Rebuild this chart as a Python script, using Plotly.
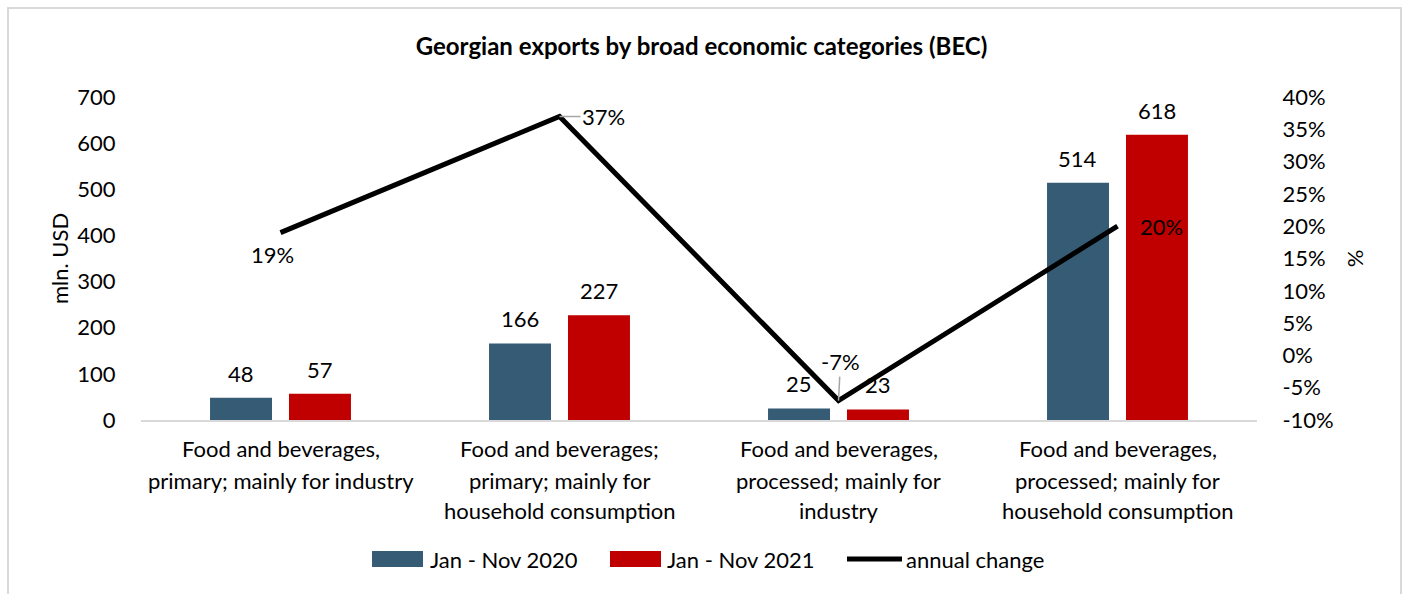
import plotly.graph_objects as go

# Export values, mln. USD
categories = [
    ["Food and beverages,", "primary; mainly for industry"],
    ["Food and beverages;", "primary; mainly for", "household consumption"],
    ["Food and beverages,", "processed; mainly for", "industry"],
    ["Food and beverages,", "processed; mainly for", "household consumption"],
]
exports_2020 = [48, 166, 25, 514]
exports_2021 = [57, 227, 23, 618]
annual_change = [0.19, 0.37, -0.07, 0.20]
change_labels = ["19%", "37%", "-7%", "20%"]

# right-axis ticks
pct_ticks = [-0.10, -0.05, 0.0, 0.05, 0.10, 0.15, 0.20, 0.25, 0.30, 0.35, 0.40]
pct_tick_labels = ["-10%", "-5%", "0%", "5%", "10%", "15%", "20%", "25%", "30%", "35%", "40%"]

series_names = ["Jan - Nov 2020", "Jan - Nov 2021", "annual change"]
BLUE = "#355B75"
RED = "#C00000"
FONT = "Lato"
TXT = 22

W, H = 1403, 594
L, R, T, B = 141, 146, 97, 174
pw, ph = W - L - R, H - T - B


def px_x(p):
    return (p - L) / pw


def px_y(p):
    return (H - B - p) / ph


x = list(range(len(categories)))

fig = go.Figure()
fig.add_trace(go.Bar(x=x, y=exports_2020, name=series_names[0],
                     marker=dict(color=BLUE, line=dict(width=0))))
fig.add_trace(go.Bar(x=x, y=exports_2021, name=series_names[1],
                     marker=dict(color=RED, line=dict(width=0))))
fig.add_trace(go.Scatter(x=x, y=annual_change, name=series_names[2], yaxis="y2",
                         mode="lines", line=dict(color="black", width=5)))

annotations = []
# bar value labels
off = 0.1416
for i in x:
    for dx, v in ((-off, exports_2020[i]), (off, exports_2021[i])):
        annotations.append(dict(x=i + dx, y=v, xref="x", yref="y", text=str(v),
                                showarrow=False, yanchor="bottom", yshift=9,
                                font=dict(family=FONT, size=TXT, color="black")))

# annual change labels
chg_pos = [
    dict(showarrow=False, yshift=-22, xshift=-8),
    dict(ax=44, ay=0, showarrow=True),
    dict(ax=2, ay=-39, showarrow=True),
    dict(showarrow=False, xshift=44),
]
for i in x:
    a = dict(x=i, y=annual_change[i], xref="x", yref="y2", text=change_labels[i],
             font=dict(family=FONT, size=TXT, color="black"),
             arrowhead=0, arrowwidth=1.5, arrowcolor="#A6A6A6", axref="pixel", ayref="pixel")
    a.update(chg_pos[i])
    annotations.append(a)

# category labels below the axis
line_y = [448, 480, 510]
for i, lines in enumerate(categories):
    for j, s in enumerate(lines):
        annotations.append(dict(x=i, y=px_y(line_y[j]), xref="x", yref="paper", text=s,
                                showarrow=False, yanchor="middle",
                                font=dict(family=FONT, size=TXT, color="black")))

# legend
shapes = []
leg_y = 559
items = [(372, 423, BLUE, "rect"), (610, 661, RED, "rect"), (847, 902, "black", "line")]
text_x = [428, 665, 904]
for (x0, x1, col, kind), tx, name in zip(items, text_x, series_names):
    if kind == "rect":
        shapes.append(dict(type="rect", xref="paper", yref="paper",
                           x0=px_x(x0), x1=px_x(x1), y0=px_y(leg_y + 8), y1=px_y(leg_y - 8),
                           fillcolor=col, line=dict(width=0)))
    else:
        shapes.append(dict(type="line", xref="paper", yref="paper",
                           x0=px_x(x0), x1=px_x(x1), y0=px_y(leg_y), y1=px_y(leg_y),
                           line=dict(color=col, width=5)))
    annotations.append(dict(x=px_x(tx), y=px_y(leg_y), xref="paper", yref="paper",
                            text=name, showarrow=False, xanchor="left", yanchor="middle",
                            font=dict(family=FONT, size=TXT, color="black")))

# chart frame
shapes.append(dict(type="rect", xref="paper", yref="paper",
                   x0=px_x(8), x1=px_x(1401), y0=px_y(600), y1=px_y(8),
                   line=dict(color="#D9D9D9", width=2), fillcolor="rgba(0,0,0,0)", layer="below"))

fig.update_layout(
    width=W, height=H,
    margin=dict(l=L, r=R, t=T, b=B, autoexpand=False),
    paper_bgcolor="white", plot_bgcolor="white",
    barmode="group", bargap=0.434, bargroupgap=0.215,
    showlegend=False,
    title=dict(text="<b>Georgian exports by broad economic categories (BEC)</b>",
               x=0.5, xanchor="center", y=1 - 47 / H, yanchor="middle",
               font=dict(family=FONT, size=24, color="black")),
    font=dict(family=FONT, size=TXT, color="black"),
    xaxis=dict(range=[-0.5, 3.5], tickvals=x, showticklabels=False, ticks="",
               showline=True, linecolor="#D9D9D9", linewidth=2, showgrid=False,
               zeroline=False, fixedrange=True),
    yaxis=dict(range=[0, 700], dtick=100, showgrid=False, zeroline=False, showline=False,
               ticks="outside", ticklen=20, tickcolor="rgba(0,0,0,0)",
               tickfont=dict(family=FONT, size=TXT, color="black"),
               title=dict(text="mln. USD", standoff=2,
                          font=dict(family=FONT, size=TXT, color="black"))),
    yaxis2=dict(range=[-0.10, 0.40], tickvals=pct_ticks, ticktext=pct_tick_labels,
                overlaying="y", side="right", showgrid=False, zeroline=False, showline=False,
                ticks="outside", ticklen=20, tickcolor="rgba(0,0,0,0)",
                tickfont=dict(family=FONT, size=TXT, color="black"),
                title=dict(text="%", standoff=14,
                           font=dict(family=FONT, size=TXT, color="black"))),
    annotations=annotations,
    shapes=shapes,
)

fig.write_html("out.html")
